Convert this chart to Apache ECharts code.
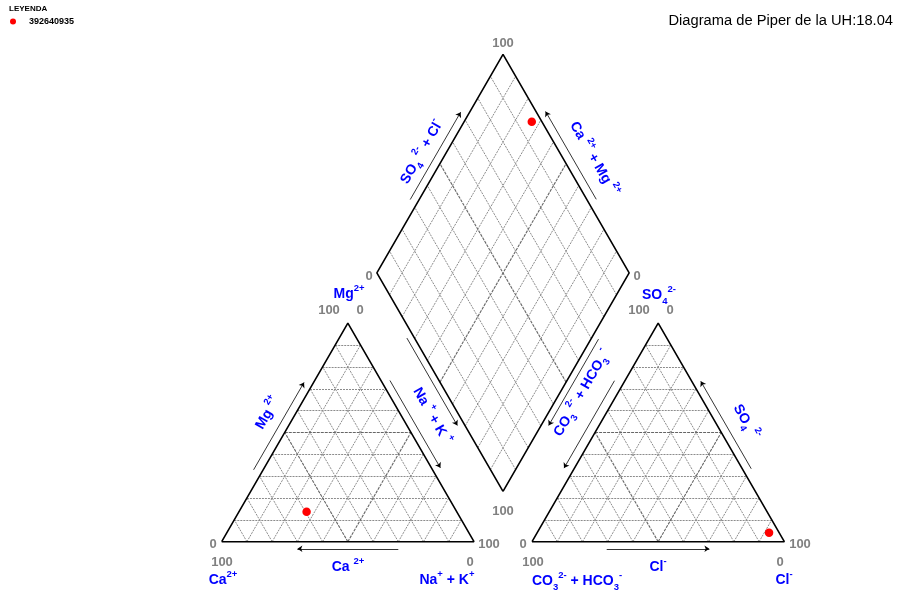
<!DOCTYPE html>
<html>
<head>
<meta charset="utf-8">
<script src="https://cdn.jsdelivr.net/npm/echarts@6/dist/echarts.min.js"></script>
<style>
  html, body { margin: 0; padding: 0; background: #fff; }
  #chart { width: 898px; height: 594px; }
</style>
</head>
<body>
<div id="chart"></div>
<script>
// sample (meq %)
const sampleNames = ['392640935'];
const caPct = [59.5];
const mgPct = [13.7];
const naKPct = [26.8];
const hco3Pct = [4.0];
const so4Pct = [4.1];
const clPct = [91.9];

// corner tick labels
const tickLow = '0';
const tickHigh = '100';

const H = Math.sqrt(3) / 2;
const GAP = 23;
const PX = 2.523; // pixels per diagram unit

// ternary helpers (diagram units, left triangle base = 0..100)
function cationXY(ca, mg, nak) {
  const s = ca + mg + nak;
  mg = mg / s * 100; nak = nak / s * 100;
  return [nak + mg / 2, mg * H];
}
function anionXY(hco3, so4, cl) {
  const s = hco3 + so4 + cl;
  so4 = so4 / s * 100; cl = cl / s * 100;
  return [100 + GAP + cl + so4 / 2, so4 * H];
}
const DB = [100 + GAP / 2, GAP * H];
function diamondXY(caMg, so4Cl) {
  return [DB[0] - caMg / 2 + so4Cl / 2, DB[1] + (caMg + so4Cl) * H];
}

const L_CA = [0, 0], L_NA = [100, 0], L_MG = [50, 100 * H];
const R_HC = [100 + GAP, 0], R_CL = [200 + GAP, 0], R_SO = [150 + GAP, 100 * H];
const D_B = diamondXY(0, 0), D_L = diamondXY(100, 0), D_R = diamondXY(0, 100), D_T = diamondXY(100, 100);

// grid lines
const gridThin = [], gridMid = [];
for (let i = 1; i <= 9; i++) {
  const f = i * 10;
  const bucket = i === 5 ? gridMid : gridThin;
  // cation triangle
  bucket.push({ coords: [cationXY(100 - f, f, 0), cationXY(0, f, 100 - f)] });
  bucket.push({ coords: [cationXY(100 - f, 0, f), cationXY(0, 100 - f, f)] });
  bucket.push({ coords: [cationXY(f, 0, 100 - f), cationXY(f, 100 - f, 0)] });
  // anion triangle
  bucket.push({ coords: [anionXY(100 - f, f, 0), anionXY(0, f, 100 - f)] });
  bucket.push({ coords: [anionXY(100 - f, 0, f), anionXY(0, 100 - f, f)] });
  bucket.push({ coords: [anionXY(f, 0, 100 - f), anionXY(f, 100 - f, 0)] });
  // diamond
  bucket.push({ coords: [diamondXY(f, 0), diamondXY(f, 100)] });
  bucket.push({ coords: [diamondXY(0, f), diamondXY(100, f)] });
}

function edgeArrow(a, b, t0, t1, off) {
  const dx = b[0] - a[0], dy = b[1] - a[1];
  const len = Math.hypot(dx, dy);
  const nx = -dy / len, ny = dx / len;
  return { coords: [
    [a[0] + dx * t0 + nx * off, a[1] + dy * t0 + ny * off],
    [a[0] + dx * t1 + nx * off, a[1] + dy * t1 + ny * off]
  ] };
}
const arrows = [
  edgeArrow(L_CA, L_MG, 0.31, 0.71, 3.3),
  edgeArrow(L_MG, L_NA, 0.28, 0.68, 3.1),
  edgeArrow(L_NA, L_CA, 0.30, 0.70, 2.8),
  edgeArrow(R_SO, R_HC, 0.284, 0.684, -3.6),
  edgeArrow(R_CL, R_SO, 0.316, 0.716, -3.1),
  edgeArrow(R_HC, R_CL, 0.296, 0.703, -2.8),
  edgeArrow(D_L, D_T, 0.318, 0.718, 3.1),
  edgeArrow(D_R, D_T, 0.318, 0.72, -3.3),
  edgeArrow(D_L, D_B, 0.283, 0.683, -2.6),
  edgeArrow(D_R, D_B, 0.288, 0.683, 2.6)
];

const points = [];
for (let i = 0; i < sampleNames.length; i++) {
  points.push(cationXY(caPct[i], mgPct[i], naKPct[i]));
  points.push(anionXY(hco3Pct[i], so4Pct[i], clPct[i]));
  points.push(diamondXY(caPct[i] + mgPct[i], so4Pct[i] + clPct[i]));
}

const BLUE = '#0000ff';
const GREY = '#808080';
const FONT = 'Liberation Sans';
const rich = {
  b: { fontSize: 14, fontWeight: 'bold', fill: BLUE, lineHeight: 22, fontFamily: FONT },
  sup: { fontSize: 9.5, fontWeight: 'bold', fill: BLUE, lineHeight: 10, verticalAlign: 'top', fontFamily: FONT },
  sub: { fontSize: 9.5, fontWeight: 'bold', fill: BLUE, lineHeight: 10, verticalAlign: 'bottom', fontFamily: FONT }
};
function chem(x, y, text, rot) {
  return {
    type: 'text', x: x, y: y, rotation: (rot || 0) * Math.PI / 180, z: 10,
    style: { text: text, rich: rich, fill: BLUE, align: 'center', verticalAlign: 'middle' }
  };
}
function num(x, y, text) {
  return {
    type: 'text', x: x, y: y, z: 10,
    style: { text: text, fontSize: 13, fontWeight: 'bold', fill: GREY, fontFamily: FONT, align: 'center', verticalAlign: 'middle' }
  };
}

const outline = (pts) => ({
  type: 'line', data: pts.concat([pts[0]]), symbol: 'none', silent: true, z: 3,
  lineStyle: { color: '#000', width: 1.6 }
});

const chart = echarts.init(document.getElementById('chart'));
const xMin = -221.7 / PX, yMin = -(594 - 541.7) / PX;
chart.setOption({
  animation: false,
  title: {
    text: 'Diagrama de Piper de la UH:18.04',
    right: 0, top: 8,
    textStyle: { fontSize: 14.7, fontWeight: 'normal', color: '#000', fontFamily: FONT }
  },
  legend: {
    data: sampleNames, left: 10, top: 17, padding: 0, icon: 'circle', itemWidth: 6, itemHeight: 6,
    textStyle: { fontSize: 9, fontWeight: 'bold', color: '#000', fontFamily: FONT, padding: [0, 0, 0, 8] }
  },
  grid: { left: 0, right: 0, top: 0, bottom: 0 },
  xAxis: { type: 'value', min: xMin, max: xMin + 898 / PX, show: false },
  yAxis: { type: 'value', min: yMin, max: yMin + 594 / PX, show: false },
  graphic: [
    { type: 'text', left: 9, top: 5, style: { text: 'LEYENDA', fontSize: 8, fontWeight: 'bold', fill: '#000', fontFamily: FONT } },
    num(503, 43, tickHigh),
    num(369, 276, tickLow), chem(349, 294, '{b|Mg}{sup|2+}'),
    num(329, 310, tickHigh), num(360, 310, tickLow),
    num(637, 276, tickLow), chem(659, 295, '{b|SO}{sub|4}{sup|2-}'),
    num(639, 310, tickHigh), num(670, 310, tickLow),
    num(503, 511, tickHigh),
    num(213, 544, tickLow), num(222, 562, tickHigh), chem(223, 580, '{b|Ca}{sup|2+}'),
    num(489, 544, tickHigh), num(470, 562, tickLow), chem(447, 580, '{b|Na}{sup|+}{b| + K}{sup|+}'),
    chem(348, 567, '{b|Ca }{sup|2+}'),
    num(523, 544, tickLow), num(533, 562, tickHigh), chem(577, 581, '{b|CO}{sub|3}{sup|2-}{b| + HCO}{sub|3}{sup|-}'),
    chem(658, 567, '{b|Cl}{sup|-}'),
    num(800, 544, tickHigh), num(780, 562, tickLow), chem(784, 580, '{b|Cl}{sup|-}'),
    chem(268, 413, '{b|Mg }{sup|2+}', 60),
    chem(432, 416, '{b|Na }{sup|+}{b| + K }{sup|+}', -60),
    chem(422, 152, '{b|SO}{sub|4}{b| }{sup|2-}{b| + Cl}{sup|-}', 60),
    chem(594, 159, '{b|Ca }{sup|2+}{b| + Mg }{sup|2+}', -60),
    chem(582, 393, '{b|CO}{sub|3}{b| }{sup|2-}{b| + HCO}{sub|3}{b| }{sup|-}', 60),
    chem(746, 422, '{b|SO}{sub|4}{b| }{sup|2-}', -60)
  ],
  series: [
    {
      type: 'lines', coordinateSystem: 'cartesian2d', silent: true, z: 1,
      data: gridThin, lineStyle: { color: '#8c8c8c', width: 1, type: [2, 1], opacity: 1 }
    },
    {
      type: 'lines', coordinateSystem: 'cartesian2d', silent: true, z: 1,
      data: gridMid, lineStyle: { color: '#666', width: 1.1, type: [3, 1], opacity: 1 }
    },
    outline([L_CA, L_NA, L_MG]),
    outline([R_HC, R_CL, R_SO]),
    outline([D_B, D_R, D_T, D_L]),
    {
      type: 'lines', coordinateSystem: 'cartesian2d', silent: true, z: 4,
      symbol: ['none', 'arrow'], symbolSize: 5,
      data: arrows, lineStyle: { color: '#000', width: 0.8, opacity: 1 }
    },
    {
      name: sampleNames[0], type: 'scatter', data: points, symbolSize: 8.5, z: 6,
      itemStyle: { color: '#ff0000', opacity: 1 }
    }
  ]
});
</script>
</body>
</html>
